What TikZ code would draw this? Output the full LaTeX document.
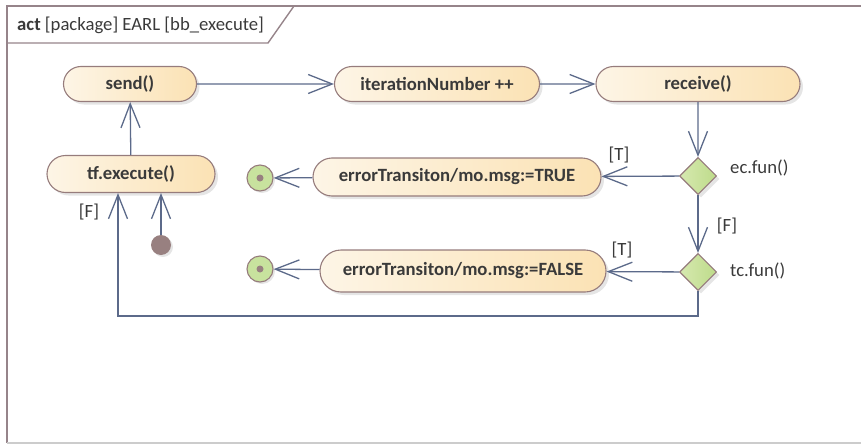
\documentclass[tikz,border=0pt]{standalone}
\usepackage{fontspec}
\setmainfont{Carlito}
\usetikzlibrary{arrows.meta,shapes.geometric,shapes.misc,shadows}
\definecolor{actleft}{RGB}{253,245,230}
\definecolor{actright}{RGB}{251,226,180}
\definecolor{actline}{RGB}{150,124,124}
\definecolor{decleft}{RGB}{214,233,176}
\definecolor{decright}{RGB}{190,219,138}
\definecolor{finfill}{RGB}{200,226,158}
\definecolor{initfill}{RGB}{152,128,128}
\definecolor{flowc}{RGB}{92,106,138}
\definecolor{framec}{RGB}{150,132,138}
\definecolor{txt}{RGB}{58,58,58}

\begin{document}
\begin{tikzpicture}[x=1pt,y=-1pt,
  act/.style={rounded rectangle, draw=actline, line width=1.1pt, left color=actleft, right color=actright,
    text=txt, font=\bfseries\fontsize{18.7}{22}\selectfont, minimum height=35pt, inner sep=0pt,
    drop shadow={shadow xshift=3pt,shadow yshift=-3pt,fill=black!20}},
  choice/.style={diamond, aspect=1, draw=actline, line width=1.1pt, left color=decleft, right color=decright,
    minimum size=37pt, inner sep=0pt, drop shadow={shadow xshift=3pt,shadow yshift=-3pt,fill=black!20}},
  final/.style={circle, draw=actline, line width=1.1pt, fill=finfill, minimum size=26pt, inner sep=0pt,
    drop shadow={shadow xshift=2pt,shadow yshift=-2pt,fill=black!20}},
  start/.style={circle, fill=initfill, minimum size=20pt, inner sep=0pt,
    drop shadow={shadow xshift=2pt,shadow yshift=-2pt,fill=black!20}},
  flow/.style={draw=flowc, line width=1.3pt, -{Straight Barb[length=24pt,width=19pt]}},
  guard/.style={text=txt, font=\fontsize{18.7}{22}\selectfont, inner sep=0pt},
  frame/.style={draw=framec, line width=1.4pt}]
\useasboundingbox (0,0) rectangle (861,444);

\draw[frame] (880,6) -- (7,6) -- (7,443);
\draw[black!20, line width=1.2pt] (7,443) -- (880,443);
\draw[frame] (7,43) -- (268,43) -- (294,6);
\node[guard, anchor=west] (title) at (17,25) {\textbf{act} [package] EARL [bb\_execute]};

\node[act, minimum width=133pt] (send) at (130,84) {send()};
\node[act, minimum width=205pt] (iter) at (437,84) {iterationNumber ++};
\node[act, minimum width=204pt] (recv) at (698,84) {receive()};
\node[act, minimum width=168pt, minimum height=37pt] (tfexec) at (131,174) {tf.execute()};
\node[act, minimum width=288pt, minimum height=38pt] (errT) at (457,177) {errorTransiton/mo.msg:=TRUE};
\node[act, minimum width=286pt, minimum height=42pt] (errF) at (463,271) {errorTransiton/mo.msg:=FALSE};

\node[choice] (ec) at (698,176) {};
\node[choice] (tc) at (698,272) {};
\node[final] (finT) at (260,178) {};
\node[final] (finF) at (260,269) {};
\fill[initfill] (finT) circle (3.5pt);
\fill[initfill] (finF) circle (3.5pt);
\node[start] (init) at (161,245) {};

\node[guard, anchor=west] (ecname) at (730,168) {ec.fun()};
\node[guard, anchor=west] (tcname) at (730,271) {tc.fun()};
\node[guard] (ecT) at (619,155) {[T]};
\node[guard] (ecF) at (727,226) {[F]};
\node[guard] (tcT) at (622,250) {[T]};
\node[guard] (tcF) at (89,212) {[F]};

\coordinate (back) at (118,316);

\draw[flow] (tfexec) -- (send);
\draw[flow] (send) -- (iter);
\draw[flow] (iter) -- (recv);
\draw[flow] (recv) -- (ec);
\draw[flow] (ec) -- (errT);
\draw[flow] (errT) -- (finT);
\draw[flow] (ec) -- (tc);
\draw[flow] (tc) -- (errF);
\draw[flow] (errF) -- (finF);
\draw[flow] (init) -- (init |- tfexec.south);
\draw[flow] (tc.south) |- (back) -- (back |- tfexec.south);
\end{tikzpicture}
\end{document}
